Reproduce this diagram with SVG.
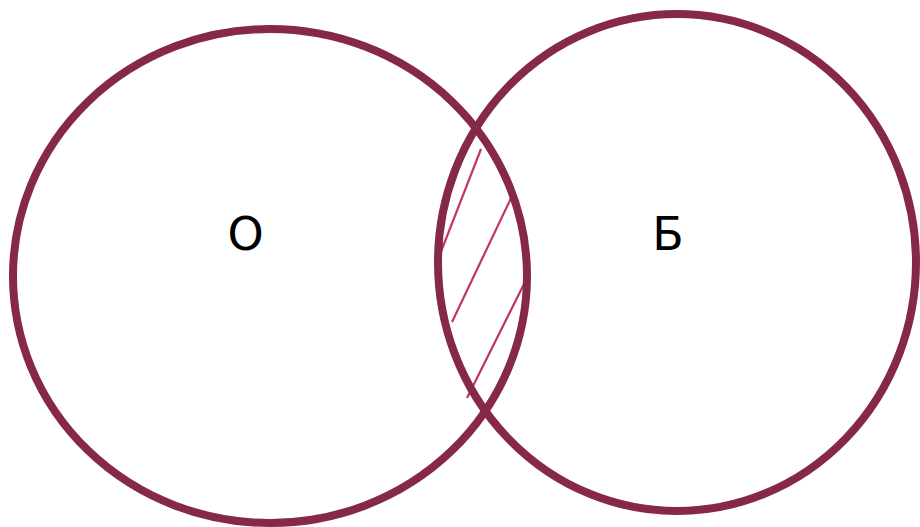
<svg xmlns="http://www.w3.org/2000/svg" width="920" height="527" viewBox="0 0 920 527">
<style>
.c{fill:none;stroke:#86284A;stroke-width:8}
.h{stroke:#C2336C;stroke-width:2.2;fill:none}
.t{font-family:"DejaVu Sans",sans-serif;font-size:46px;fill:#000;text-anchor:middle}
</style>
<rect width="920" height="527" fill="#fff"/>
<g id="hatch">
<line class="h" x1="481" y1="149" x2="437" y2="262"/>
<line class="h" x1="512" y1="196" x2="452" y2="322"/>
<line class="h" x1="527" y1="278" x2="467" y2="398"/>
</g>
<g id="set-o">
<ellipse class="c" cx="270" cy="276" rx="257" ry="247"/>
<text class="t" x="245.5" y="250">О</text>
</g>
<g id="set-b">
<ellipse class="c" cx="677" cy="262.5" rx="239" ry="248.5"/>
<text class="t" x="668" y="250">Б</text>
</g>
</svg>
